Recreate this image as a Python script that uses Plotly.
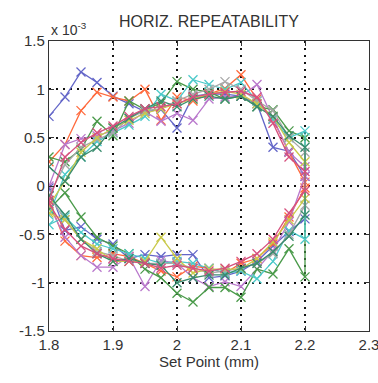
import plotly.graph_objects as go

# Set points (mm): outward sweep 1.8 -> 2.2, return sweep 2.2 -> 1.8
set_points = [1.8, 1.825, 1.85, 1.875, 1.9, 1.925, 1.95, 1.975, 2.0,
              2.025, 2.05, 2.075, 2.1, 2.125, 2.15, 2.175, 2.2]

# Horizontal error (x 1e-3), outward sweep values then return sweep values
blue_out = [0.72, 0.92, 1.18, 1.07, 0.93, 0.85, 0.77, 0.79, 0.60, 0.93, 0.95, 0.95, 0.93, 0.85, 0.40, 0.36, 0.10]
blue_ret = [-0.34, -0.47, -0.62, -0.78, -0.88, -0.93, -0.95, -0.71, -0.71, -0.73, -0.71, -0.75, -0.60, -0.55, -0.42, -0.46, -0.02]

red_out = [0.25, 0.43, 0.78, 0.97, 0.92, 0.88, 1.00, 0.68, 0.92, 0.88, 0.95, 1.01, 1.15, 0.90, 0.69, 0.35, 0.04]
red_ret = [-0.02, -0.32, -0.60, -0.75, -0.80, -0.90, -0.85, -0.83, -0.94, -0.88, -0.80, -0.73, -0.70, -0.74, -0.72, -0.57, -0.15]

purple_out = [0.00, 0.43, 0.49, 0.52, 0.57, 0.65, 0.77, 0.67, 0.75, 0.68, 0.90, 0.92, 0.93, 1.05, 0.70, 0.35, 0.20]
purple_ret = [0.10, -0.37, -0.67, -0.86, -1.04, -0.99, -1.04, -0.95, -0.80, -0.77, -1.04, -0.73, -0.84, -0.84, -0.72, -0.53, -0.20]

green_out = [0.30, 0.25, 0.38, 0.67, 0.52, 0.88, 0.79, 0.86, 1.08, 1.00, 0.97, 0.90, 0.93, 0.82, 0.79, 0.57, 0.50]
green_ret = [-0.94, -0.65, -0.91, -0.86, -1.15, -1.05, -1.05, -1.20, -1.11, -0.95, -0.86, -0.70, -0.62, -0.53, -0.32, -0.07, -0.24]

cyan_out = [-0.30, 0.12, 0.30, 0.46, 0.55, 0.63, 0.72, 0.95, 0.88, 1.10, 1.05, 1.00, 1.07, 0.88, 0.69, 0.50, 0.57]
cyan_ret = [-0.55, -0.46, -0.78, -0.96, -0.88, -0.90, -0.85, -0.80, -0.78, -0.80, -0.75, -0.70, -0.65, -0.60, -0.48, -0.32, -0.40]

gray_out = [-0.10, 0.22, 0.40, 0.48, 0.55, 0.70, 0.78, 0.80, 0.88, 0.95, 1.00, 1.08, 1.00, 0.88, 0.78, 0.50, 0.35]
gray_ret = [-0.20, -0.50, -0.70, -0.80, -0.85, -0.88, -0.90, -0.85, -0.80, -0.80, -0.80, -0.78, -0.72, -0.68, -0.55, -0.35, -0.10]

yellow_out = [-0.20, 0.05, 0.35, 0.50, 0.60, 0.68, 0.75, 0.80, 0.85, 0.90, 0.95, 0.98, 0.95, 0.85, 0.72, 0.45, 0.25]
yellow_ret = [-0.13, -0.35, -0.58, -0.75, -0.86, -0.86, -0.86, -0.90, -0.75, -0.53, -0.78, -0.78, -0.78, -0.65, -0.55, -0.35, -0.28]

teal_out = [0.20, 0.05, 0.30, 0.40, 0.60, 0.70, 0.80, 0.88, 0.82, 0.90, 0.93, 0.90, 0.93, 0.82, 0.72, 0.52, 0.40]
teal_ret = [-0.30, -0.52, -0.68, -0.80, -0.85, -0.92, -0.92, -0.95, -1.00, -0.82, -0.80, -0.75, -0.78, -0.70, -0.55, -0.30, -0.10]

pink_out = [-0.15, 0.30, 0.45, 0.55, 0.62, 0.72, 0.80, 0.82, 0.85, 0.92, 0.95, 0.97, 0.98, 0.92, 0.65, 0.30, 0.15]
pink_ret = [-0.05, -0.28, -0.55, -0.70, -0.78, -0.85, -0.88, -0.85, -0.82, -0.85, -0.80, -0.78, -0.75, -0.70, -0.62, -0.45, -0.18]

series = [
    ("#6366c8", blue_out, blue_ret),
    ("#ff6a3d", red_out, red_ret),
    ("#b978cc", purple_out, purple_ret),
    ("#4a9a4a", green_out, green_ret),
    ("#4cc9c9", cyan_out, cyan_ret),
    ("#a8a8a8", gray_out, gray_ret),
    ("#c9c94a", yellow_out, yellow_ret),
    ("#3a8c6e", teal_out, teal_ret),
    ("#d6507e", pink_out, pink_ret),
]

fig = go.Figure()
for color, out, ret in series:
    fig.add_trace(go.Scatter(
        x=set_points + set_points[::-1],
        y=out + ret,
        mode="lines+markers",
        line=dict(color=color, width=1.3),
        marker=dict(symbol="x-thin", size=9, line=dict(color=color, width=1.3)),
        showlegend=False,
    ))

font = "Liberation Sans, Arial, sans-serif"
x_ticks = [1.8, 1.9, 2.0, 2.1, 2.2, 2.3]
x_labels = ["1.8", "1.9", "2", "2.1", "2.2", "2.3"]
y_ticks = [-1.5, -1, -0.5, 0, 0.5, 1, 1.5]
y_labels = ["-1.5", "-1", "-0.5", "0", "0.5", "1", "1.5"]

axis_common = dict(
    showline=True, linecolor="#333333", linewidth=1.3, mirror="allticks",
    ticks="inside", ticklen=5, tickcolor="#333333",
    showgrid=True, gridcolor="#111111", griddash="2px,5px", gridwidth=1.5,
    zeroline=False, tickfont=dict(family=font, size=15, color="#333333"),
    ticklabeloverflow="allow", automargin=False,
)

fig.update_layout(
    width=378, height=383,
    margin=dict(l=49, r=9, t=41, b=52),
    paper_bgcolor="white", plot_bgcolor="white",
    xaxis=dict(range=[1.8, 2.3], tickvals=x_ticks, ticktext=x_labels,
               title=dict(text="Set Point (mm)", font=dict(family=font, size=15, color="#333333"), standoff=4),
               **axis_common),
    yaxis=dict(range=[-1.5, 1.5], tickvals=y_ticks, ticktext=y_labels, **axis_common),
    annotations=[
        dict(text="HORIZ. REPEATABILITY", x=0.5, xref="paper", y=1.0, yref="paper",
             yanchor="bottom", yshift=9, showarrow=False,
             font=dict(family=font, size=16, color="#333333")),
        dict(text="x 10<sup>-3</sup>", x=0.0, xref="paper", y=1.0, yref="paper",
             xanchor="left", yanchor="bottom", yshift=1, showarrow=False,
             font=dict(family=font, size=14, color="#333333")),
    ],
)

fig.write_html("out.html")
